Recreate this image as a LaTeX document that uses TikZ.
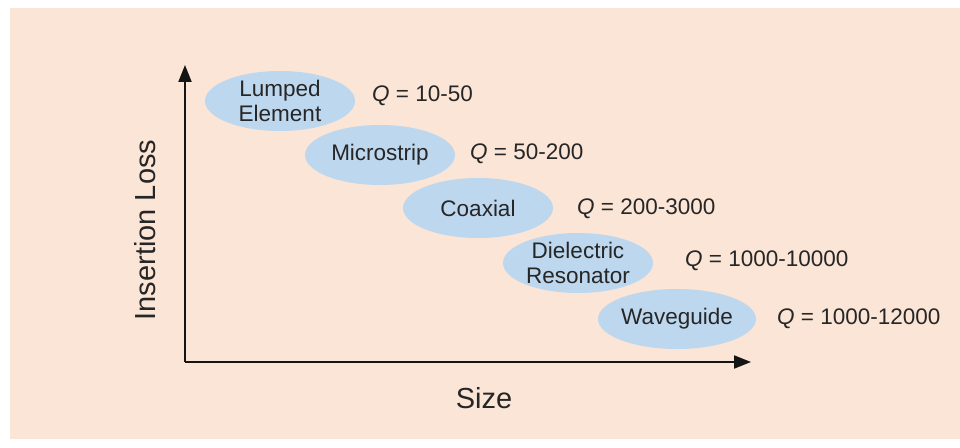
\documentclass[tikz,border=0pt]{standalone}
\usepackage{fontspec}
\setmainfont{Liberation Sans}
\usetikzlibrary{shapes.geometric,arrows.meta}
\definecolor{panel}{HTML}{FBE5D6}
\definecolor{blob}{HTML}{BDD7EE}
\definecolor{ink}{HTML}{262626}
\definecolor{axisink}{HTML}{141414}
\tikzset{
  tech/.style={ellipse, fill=blob, minimum width=150bp, minimum height=60bp,
    inner sep=0pt, align=center, text=ink,
    font=\fontsize{22.5bp}{25bp}\selectfont},
  qlabel/.style={anchor=west, inner sep=0pt, text=ink,
    font=\fontsize{22.5bp}{25bp}\selectfont},
  axislabel/.style={inner sep=0pt, text=ink, font=\fontsize{29bp}{32bp}\selectfont},
  axisline/.style={draw=axisink, line width=2bp,
    -{Triangle[length=17bp,width=13bp]}}
}
\begin{document}
\begin{tikzpicture}[x=1bp,y=-1bp]
  % canvas and shaded panel
  \useasboundingbox (0,0) rectangle (960,448);
  \fill[white] (0,0) rectangle (960,448);
  \fill[panel] (10,8) rectangle (960,439);

  % axes
  \coordinate (origin) at (185,362);
  \coordinate (ytip) at (185,65);
  \coordinate (xtip) at (751,362);
  \draw[axisline] (origin) -- (ytip);
  \draw[axisline] (origin) -- (xtip);
  \node[axislabel, rotate=90] (ylab) at (145,230) {Insertion Loss};
  \node[axislabel] (xlab) at (484,398) {Size};

  % resonator technologies
  \node[tech] (lumped) at (280,101) {Lumped\\Element};
  \node[tech] (micro) at (380,155) {Microstrip};
  \node[tech] (coax) at (478,208) {Coaxial};
  \node[tech] (diel) at (578,263) {Dielectric\\Resonator};
  \node[tech] (wave) at (677,319) {Waveguide};

  % quality factor ranges
  \node[qlabel] (q1) at (372,96) {\textit{Q} = 10-50};
  \node[qlabel] (q2) at (470,154) {\textit{Q} = 50-200};
  \node[qlabel] (q3) at (577,209) {\textit{Q} = 200-3000};
  \node[qlabel] (q4) at (685,261) {\textit{Q} = 1000-10000};
  \node[qlabel] (q5) at (777,319) {\textit{Q} = 1000-12000};
\end{tikzpicture}
\end{document}
